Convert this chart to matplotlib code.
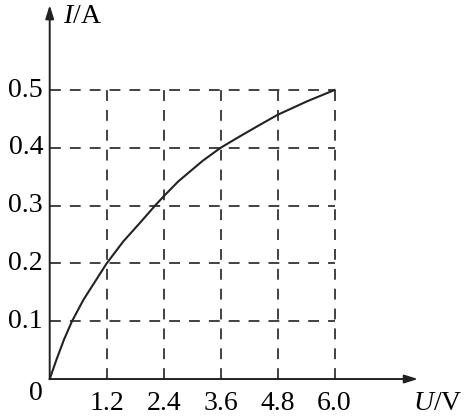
import matplotlib
matplotlib.use("Agg")
import matplotlib.pyplot as plt

# values
u_vals = [0, 0.14, 0.30, 0.47, 0.71, 1.2, 1.55, 1.9, 2.22, 2.4, 2.71, 3.23, 3.6,
          4.01, 4.39, 4.8, 5.41, 6.0]
i_vals = [0, 0.033, 0.068, 0.1, 0.137, 0.2, 0.238, 0.27, 0.3, 0.316, 0.342, 0.378, 0.4,
          0.42, 0.438, 0.457, 0.48, 0.5]
x_ticks = [1.2, 2.4, 3.6, 4.8, 6.0]
y_ticks = [0.1, 0.2, 0.3, 0.4, 0.5]
x_labels = ["1.2", "2.4", "3.6", "4.8", "6.0"]
y_labels = ["0.1", "0.2", "0.3", "0.4", "0.5"]

plt.rcParams["font.family"] = "Liberation Serif"
plt.rcParams["mathtext.fontset"] = "custom"
plt.rcParams["mathtext.it"] = "Liberation Serif:italic"
plt.rcParams["mathtext.rm"] = "Liberation Serif"

fig = plt.figure(figsize=(4.7, 4.17), dpi=100)
ax = fig.add_axes([0, 0, 1, 1])
ax.set_xlim(-1.047, 8.854)
ax.set_ylim(-0.0657, 0.6557)
ax.axis("off")

grid_color = "#333333"
x_max = x_ticks[-1]
y_max = y_ticks[-1]
for y in y_ticks:
    ax.plot([0, x_max], [y, y], color=grid_color, lw=1.3, dashes=(6, 5))
for x in x_ticks:
    ax.plot([x, x], [0, y_max], color=grid_color, lw=1.3, dashes=(6, 5))

# axes with arrows
arrow = dict(arrowstyle="-|>,head_length=0.8,head_width=0.25", color="#222222", lw=1.4,
             shrinkA=0, shrinkB=0)
ax.annotate("", xy=(7.76, 0), xytext=(0, 0), arrowprops=arrow)
ax.annotate("", xy=(0, 0.647), xytext=(0, 0), arrowprops=arrow)

ax.plot(u_vals, i_vals, color="#222222", lw=1.5, solid_joinstyle="round")

fs = 20
for x, lab in zip(x_ticks, x_labels):
    ax.text(x, -0.021, lab, ha="center", va="top", fontsize=fs)
for y, lab in zip(y_ticks, y_labels):
    ax.text(-0.14, y, lab, ha="right", va="center", fontsize=fs)
ax.text(-0.14, -0.004, "0", ha="right", va="top", fontsize=fs)

ax.text(0.27, 0.627, r"$I$/A", ha="left", va="center", fontsize=fs)
ax.text(7.66, -0.021, r"$U$/V", ha="left", va="top", fontsize=fs)

fig.savefig("out.png", dpi=100)
